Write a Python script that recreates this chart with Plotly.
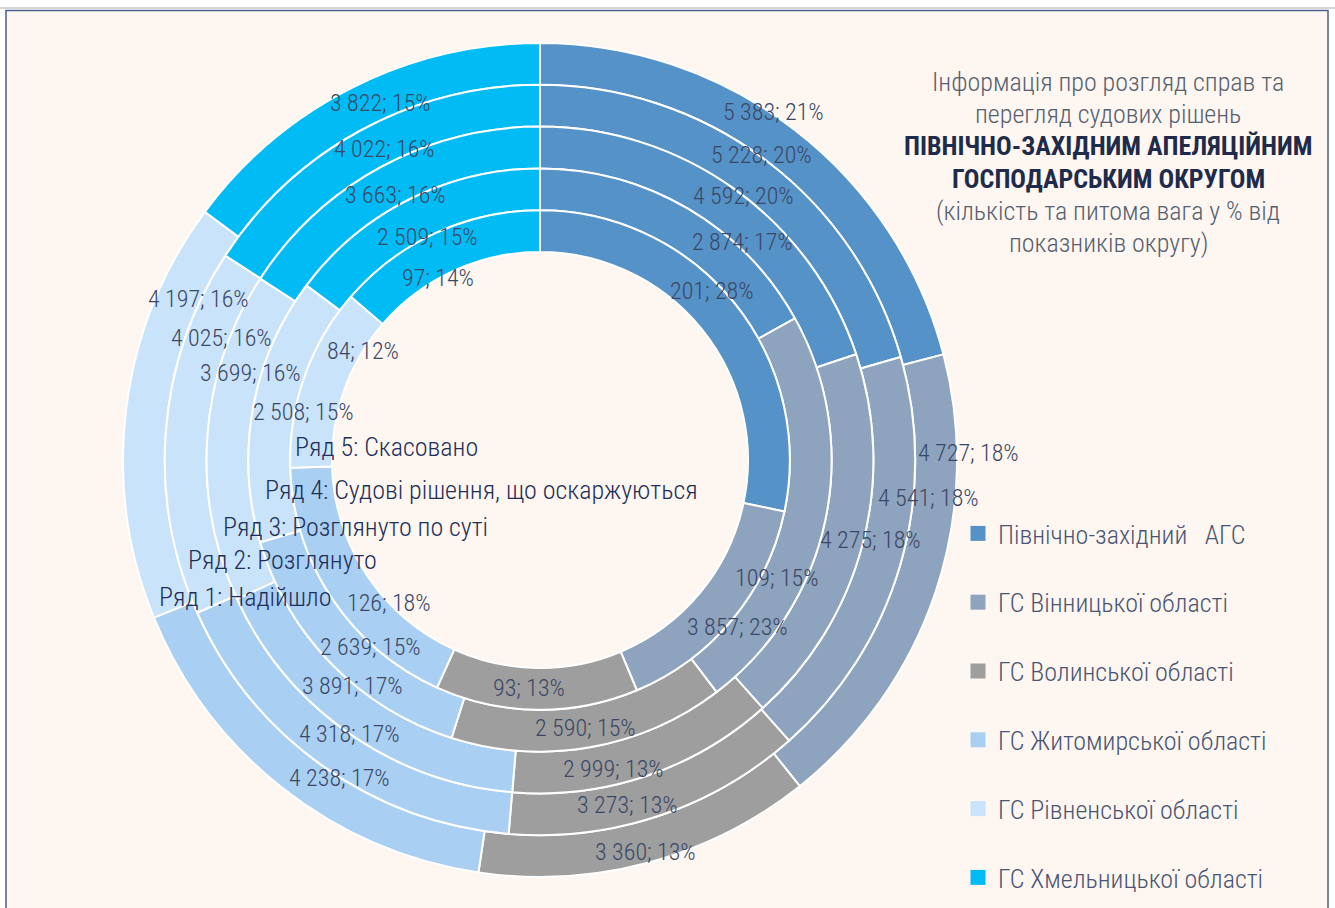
import math
import plotly.graph_objects as go

# ---------------- data ----------------
categories = ["Північно-західний   АГС", "ГС Вінницької області", "ГС Волинської області",
              "ГС Житомирської області", "ГС Рівненської області", "ГС Хмельницької області"]
series_names = ["Ряд 1: Надійшло", "Ряд 2: Розглянуто", "Ряд 3: Розглянуто по суті",
                "Ряд 4: Судові рішення, що оскаржуються", "Ряд 5: Скасовано"]

received = [5383, 4727, 3360, 4238, 4197, 3822]
received_pct = [21, 18, 13, 17, 16, 15]
considered = [5228, 4541, 3273, 4318, 4025, 4022]
considered_pct = [20, 18, 13, 17, 16, 16]
merits = [4592, 4275, 2999, 3891, 3699, 3663]
merits_pct = [20, 18, 13, 17, 16, 16]
appealed = [2874, 3857, 2590, 2639, 2508, 2509]
appealed_pct = [17, 23, 15, 15, 15, 15]
cancelled = [201, 109, 93, 126, 84, 97]
cancelled_pct = [28, 15, 13, 18, 12, 14]

rings = [received, considered, merits, appealed, cancelled]
ring_pcts = [received_pct, considered_pct, merits_pct, appealed_pct, cancelled_pct]

# ---------------- style / layout ----------------
colors = ["#5592C8", "#8EA3BD", "#9E9E9E", "#A9D0F3", "#C9E3FA", "#00BBF4"]
FONT = "Roboto Condensed, Liberation Sans Narrow, Arial Narrow, Roboto, sans-serif"
W, H = 1335, 908
CX, CY = 540, 460          # donut centre in px (from top-left)
R_OUT = 417                # outer radius px
RING = 41.8                # ring thickness px
BG = "#FDF6F1"

# manual data-label nudges (degrees along the ring, px outward), like dragged Excel labels
label_dtheta = [[-3.8, -19.3, 0.0, -5.9, 18.1, 2.6],
                [-1.0, -10.7, 4.2, -0.6, 16.5, 1.9],
                [1.8, -1.2, 5.1, 4.6, 12.6, -0.1],
                [12.5, 28.3, 0.1, -3.5, 1.2, -0.1],
                [-5.5, -13.0, 2.0, -9.7, 12.1, -4.7]]
label_dr = [[23, 32, 10, -20, -18, -5],
            [23, 36, 2, -21, -13, -7],
            [21, 28, 5, -19, -10, -11],
            [27, -12, 1, -18, -29, -21],
            [12, 36, -1, -21, -21, -20]]

fig = go.Figure()
annotations = []

for k, vals in enumerate(rings):
    R = R_OUT - k * RING
    fig.add_trace(go.Pie(
        values=vals, labels=categories, name=series_names[k],
        sort=False, direction="clockwise", rotation=0,
        hole=(R - RING) / R,
        domain=dict(x=[(CX - R) / W, (CX + R) / W],
                    y=[(H - CY - R) / H, (H - CY + R) / H]),
        marker=dict(colors=colors, line=dict(color="white", width=2)),
        textinfo="none", showlegend=False,
        hovertemplate="%{label}<br>%{value}<extra>" + series_names[k] + "</extra>",
    ))
    # data labels at slice mid-angles (+ nudges)
    total = sum(vals)
    cum = 0
    rmid = R - RING / 2
    for j, (v, p) in enumerate(zip(vals, ring_pcts[k])):
        mid = (cum + v / 2) / total
        cum += v
        th = math.radians(360 * mid + label_dtheta[k][j])
        r = rmid + label_dr[k][j]
        x = CX + r * math.sin(th)
        y = CY - r * math.cos(th)
        annotations.append(dict(
            x=x / W, y=1 - y / H, xref="paper", yref="paper",
            xanchor="center", yanchor="middle",
            text=f"{v:,}".replace(",", " ") + f"; {p}%",
            showarrow=False,
            font=dict(family=FONT, size=24, color="#3B4765", weight=300),
        ))

# series-name labels
name_pos = [(245, 597), (282, 560), (355, 527), (481, 490), (386, 447)]
for name, (x, y) in zip(series_names, name_pos):
    annotations.append(dict(x=x / W, y=1 - y / H, xref="paper", yref="paper",
                            xanchor="center", yanchor="middle",
                            text=name, showarrow=False,
                            font=dict(family=FONT, size=26, color="#1F2F58", weight=300)))

# title block
title_lines = [("Інформація про розгляд справ та", False),
               ("перегляд судових рішень", False),
               ("ПІВНІЧНО-ЗАХІДНИМ АПЕЛЯЦІЙНИМ", True),
               ("ГОСПОДАРСЬКИМ ОКРУГОМ", True),
               ("(кількість та питома вага у % від", False),
               ("показників округу)", False)]
for i, (t, bold) in enumerate(title_lines):
    y = 82 + 32.2 * i
    annotations.append(dict(x=1108 / W, y=1 - y / H, xref="paper", yref="paper",
                            xanchor="center", yanchor="middle",
                            text=f"<b>{t}</b>" if bold else t, showarrow=False,
                            font=dict(family=FONT, size=26,
                                      color="#1F2B4A" if bold else "#56606F",
                                      weight=700 if bold else 300)))

# legend entries (one per category)
for c, col in zip(categories, colors):
    fig.add_trace(go.Scatter(x=[None], y=[None], mode="markers", name=c,
                             legendgroup=c,
                             marker=dict(symbol="square", size=15, color=col)))

fig.update_layout(
    width=W, height=H, autosize=False,
    margin=dict(l=0, r=0, t=0, b=0),
    paper_bgcolor="white", plot_bgcolor="rgba(0,0,0,0)",
    xaxis=dict(visible=False), yaxis=dict(visible=False),
    annotations=annotations,
    showlegend=True,
    legend=dict(x=958 / W, xanchor="left", y=1 - 510 / H, yanchor="top",
                font=dict(family=FONT, size=26, color="#4A5573", weight=300),
                tracegroupgap=32, bgcolor="rgba(0,0,0,0)",
                itemclick=False, itemdoubleclick=False),
    shapes=[
        dict(type="line", xref="paper", yref="paper", x0=0, x1=1,
             y0=1 - 8 / H, y1=1 - 8 / H, line=dict(color="#C8C8C8", width=1.5), layer="below"),
        dict(type="rect", xref="paper", yref="paper", x0=6 / W, x1=1328 / W,
             y0=-0.05, y1=1 - 10.5 / H, fillcolor=BG,
             line=dict(color="#4B5F8C", width=1.5), layer="below"),
    ],
)

fig.write_html("out.html", config={"displayModeBar": False},
               post_script="document.body.style.margin='0';")
